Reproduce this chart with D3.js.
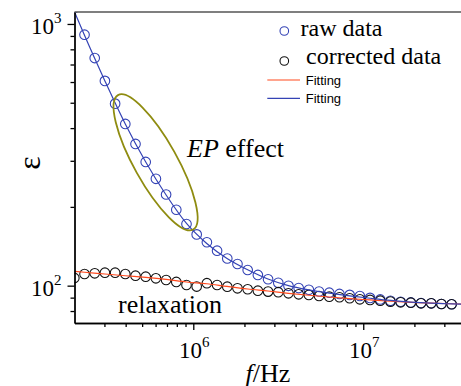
<!DOCTYPE html>
<html><head><meta charset="utf-8">
<script src="https://cdn.jsdelivr.net/npm/d3@7/dist/d3.min.js"></script>
<style>body{margin:0;background:#fff}svg{display:block}
.serif{font-family:"Liberation Serif","Times New Roman",Times,"DejaVu Serif",serif}
.sans{font-family:"Liberation Sans",Arial,Helvetica,sans-serif}</style>
</head><body>
<svg id="chart" width="461" height="386"></svg>
<script>
// Frequencies (Hz) of measured points
const freq = [199526, 229087, 263027, 301995, 346737, 398107, 457088, 524807, 602560, 691831,
  794328, 912011, 1047129, 1202264, 1380384, 1584893, 1819701, 2089296, 2398833, 2754229,
  3162278, 3630781, 4168694, 4786301, 5495409, 6309573, 7244360, 8317638, 9549926, 10964782,
  12589254, 14454398, 16595869, 19054607, 21877616, 25118864, 28840315, 33113112];
// raw data (blue circles)
const rawData = [1150, 910, 741, 606, 496, 415, 348, 297, 256, 223, 195, 172, 157, 146.5, 136, 127,
  121, 114.8, 109.9, 105.8, 102.5, 99.9, 97.9, 96.4, 95.0, 94.0, 93.0, 92.2, 91.3, 89.8, 88.6,
  87.5, 86.8, 86.3, 85.8, 85.6, 85.1, 84.9];
// corrected data (black circles)
const correctedData = [107, 110.8, 111.5, 112.1, 112.1, 110.8, 109.2, 108.2, 106.7, 105.1, 103.3,
  100.6, 99.2, 102.2, 100.6, 99.1, 97.7, 96.9, 95.7, 94.9, 94.4, 93.5, 92.7, 92.2, 91.3, 90.8,
  90.3, 89.5, 88.7, 88.2, 87.6, 86.9, 86.4, 86.1, 85.6, 85.6, 85.1, 84.9];
// fitting curves
const fitFreq = [2.0e5, 2.29e5, 3.02e5, 3.98e5, 5.25e5, 6.92e5, 9.12e5, 1.20e6, 1.58e6, 2.09e6,
  2.75e6, 3.63e6, 4.79e6, 6.31e6, 8.32e6, 1.10e7, 1.45e7, 1.91e7, 2.51e7, 3.31e7, 3.76e7];
const fitCorrected = [113.4, 112.5, 110.8, 109.1, 107.5, 105.6, 103.3, 101.7, 99.3, 97.1, 95.4,
  93.5, 91.9, 90.5, 89.2, 88.2, 87.2, 86.4, 85.8, 85.3, 85.1];
const fitRaw = [1112, 905, 606, 415, 297, 222, 173, 145, 127, 115, 106, 100, 96.3, 93.6, 91.4,
  89.5, 87.8, 86.5, 85.7, 85.2, 85.0];
const xMajorTicks = [1e6, 1e7];
const xMajorLabels = ["6", "7"];
const yMajorTicks = [100, 1000];
const yMajorLabels = ["2", "3"];
const xMinorTicks = [3e5,4e5,5e5,6e5,7e5,8e5,9e5,2e6,3e6,4e6,5e6,6e6,7e6,8e6,9e6,2e7,3e7];
const yMinorTicks = [80,90,200,300,400,500,600,700,800,900];
const legendLabels = ["raw data", "corrected data", "Fitting", "Fitting"];

const svg = d3.select("#chart");
const L = 74.5, R = 461, T = 12, B = 323;
const x = d3.scaleLog().domain([2e5, 3.76e7]).range([L, R]);
const y = d3.scaleLog().domain([72, 1111]).range([B, T]);
const blue = "#3443b5", red = "#ff4a1f", olive = "#8f8c10";

svg.append("defs").append("clipPath").attr("id","clip")
  .append("rect").attr("x",L).attr("y",T).attr("width",R-L).attr("height",B-T);

const plot = svg.append("g").attr("clip-path","url(#clip)");

plot.selectAll("circle.raw").data(freq.map((f,i)=>[f,rawData[i]])).join("circle")
  .attr("class","raw").attr("cx",d=>x(d[0])).attr("cy",d=>y(d[1])).attr("r",4.8)
  .attr("fill","none").attr("stroke",blue).attr("stroke-width",1.1);
plot.selectAll("circle.cor").data(freq.map((f,i)=>[f,correctedData[i]])).join("circle")
  .attr("class","cor").attr("cx",d=>x(d[0])).attr("cy",d=>y(d[1])).attr("r",4.8)
  .attr("fill","none").attr("stroke","#111").attr("stroke-width",1.1);

const line = d3.line().x(d=>x(d[0])).y(d=>y(d[1])).curve(d3.curveMonotoneX);
plot.append("path").datum(fitFreq.map((f,i)=>[f,fitCorrected[i]]))
  .attr("d",line).attr("fill","none").attr("stroke",red).attr("stroke-width",1.2);
plot.append("path").datum(fitFreq.map((f,i)=>[f,fitRaw[i]]))
  .attr("d",line).attr("fill","none").attr("stroke",blue).attr("stroke-width",1.2);

svg.append("ellipse")
  .attr("transform",`translate(${x(6.0e5)},${y(296)}) rotate(60.8)`)
  .attr("rx",77).attr("ry",21.5).attr("fill","none").attr("stroke",olive).attr("stroke-width",1.8);

const axStyle = g => { g.selectAll("path,line").attr("stroke","#000").attr("stroke-width",1.3); g.selectAll("text").remove(); };
svg.append("g").attr("transform",`translate(0,${B})`)
  .call(d3.axisBottom(x).tickValues(xMajorTicks).tickSize(7).tickSizeOuter(0).tickFormat(""))
  .call(axStyle);
svg.append("g").attr("transform",`translate(0,${B})`)
  .call(d3.axisBottom(x).tickValues(xMinorTicks).tickSize(4).tickSizeOuter(0).tickFormat(""))
  .call(axStyle);
svg.append("g").attr("transform",`translate(${L},0)`)
  .call(d3.axisLeft(y).tickValues(yMajorTicks).tickSize(7).tickSizeOuter(0).tickFormat(""))
  .call(axStyle);
svg.append("g").attr("transform",`translate(${L},0)`)
  .call(d3.axisLeft(y).tickValues(yMinorTicks).tickSize(4).tickSizeOuter(0).tickFormat(""))
  .call(axStyle);
svg.append("line").attr("x1",L).attr("x2",R).attr("y1",T).attr("y2",T)
  .attr("stroke","#555").attr("stroke-width",1.3);

xMajorTicks.forEach((v,i)=>{
  const t = svg.append("text").attr("class","serif").attr("x",x(v)+1).attr("y",358.3).attr("text-anchor","middle")
    .attr("font-size",23);
  t.append("tspan").text("10");
  t.append("tspan").attr("dy",-11).attr("font-size",15).text(xMajorLabels[i]);
});
yMajorTicks.forEach((v,i)=>{
  const t = svg.append("text").attr("class","serif").attr("x",31).attr("y",y(v)+10).attr("text-anchor","start")
    .attr("font-size",23);
  t.append("tspan").text("10");
  t.append("tspan").attr("dy",-11).attr("font-size",15).text(yMajorLabels[i]);
});

const xt = svg.append("text").attr("class","serif").attr("x",268).attr("y",381.5).attr("text-anchor","middle")
  .attr("font-size",26);
xt.append("tspan").attr("font-style","italic").text("f");
xt.append("tspan").text("/Hz");
svg.append("text").attr("class","serif").attr("transform","translate(40,163) rotate(-90)").attr("text-anchor","middle")
  .attr("font-size",32).text("ε");

const ep = svg.append("text").attr("class","serif").attr("x",187).attr("y",157).attr("font-size",26);
ep.append("tspan").attr("font-style","italic").text("EP");
ep.append("tspan").text(" effect");
svg.append("text").attr("class","serif").attr("x",118).attr("y",313).attr("font-size",26).text("relaxation");

svg.append("circle").attr("cx",284.3).attr("cy",31).attr("r",4.3).attr("fill","none").attr("stroke",blue).attr("stroke-width",1.1);
svg.append("circle").attr("cx",284.3).attr("cy",61).attr("r",4.3).attr("fill","none").attr("stroke","#111").attr("stroke-width",1.1);
svg.append("text").attr("class","serif").attr("x",300.5).attr("y",35.7).attr("font-size",24).text(legendLabels[0]);
svg.append("text").attr("class","serif").attr("x",306).attr("y",64.3).attr("font-size",24).text(legendLabels[1]);
svg.append("line").attr("x1",267.3).attr("x2",300).attr("y1",80).attr("y2",80).attr("stroke",red).attr("stroke-width",1.2);
svg.append("line").attr("x1",267.3).attr("x2",300).attr("y1",98.3).attr("y2",98.3).attr("stroke",blue).attr("stroke-width",1.2);
svg.append("text").attr("class","sans").attr("x",305.7).attr("y",84.5).attr("font-size",13).text(legendLabels[2]);
svg.append("text").attr("class","sans").attr("x",305.7).attr("y",103).attr("font-size",13).text(legendLabels[3]);
</script>
</body></html>
